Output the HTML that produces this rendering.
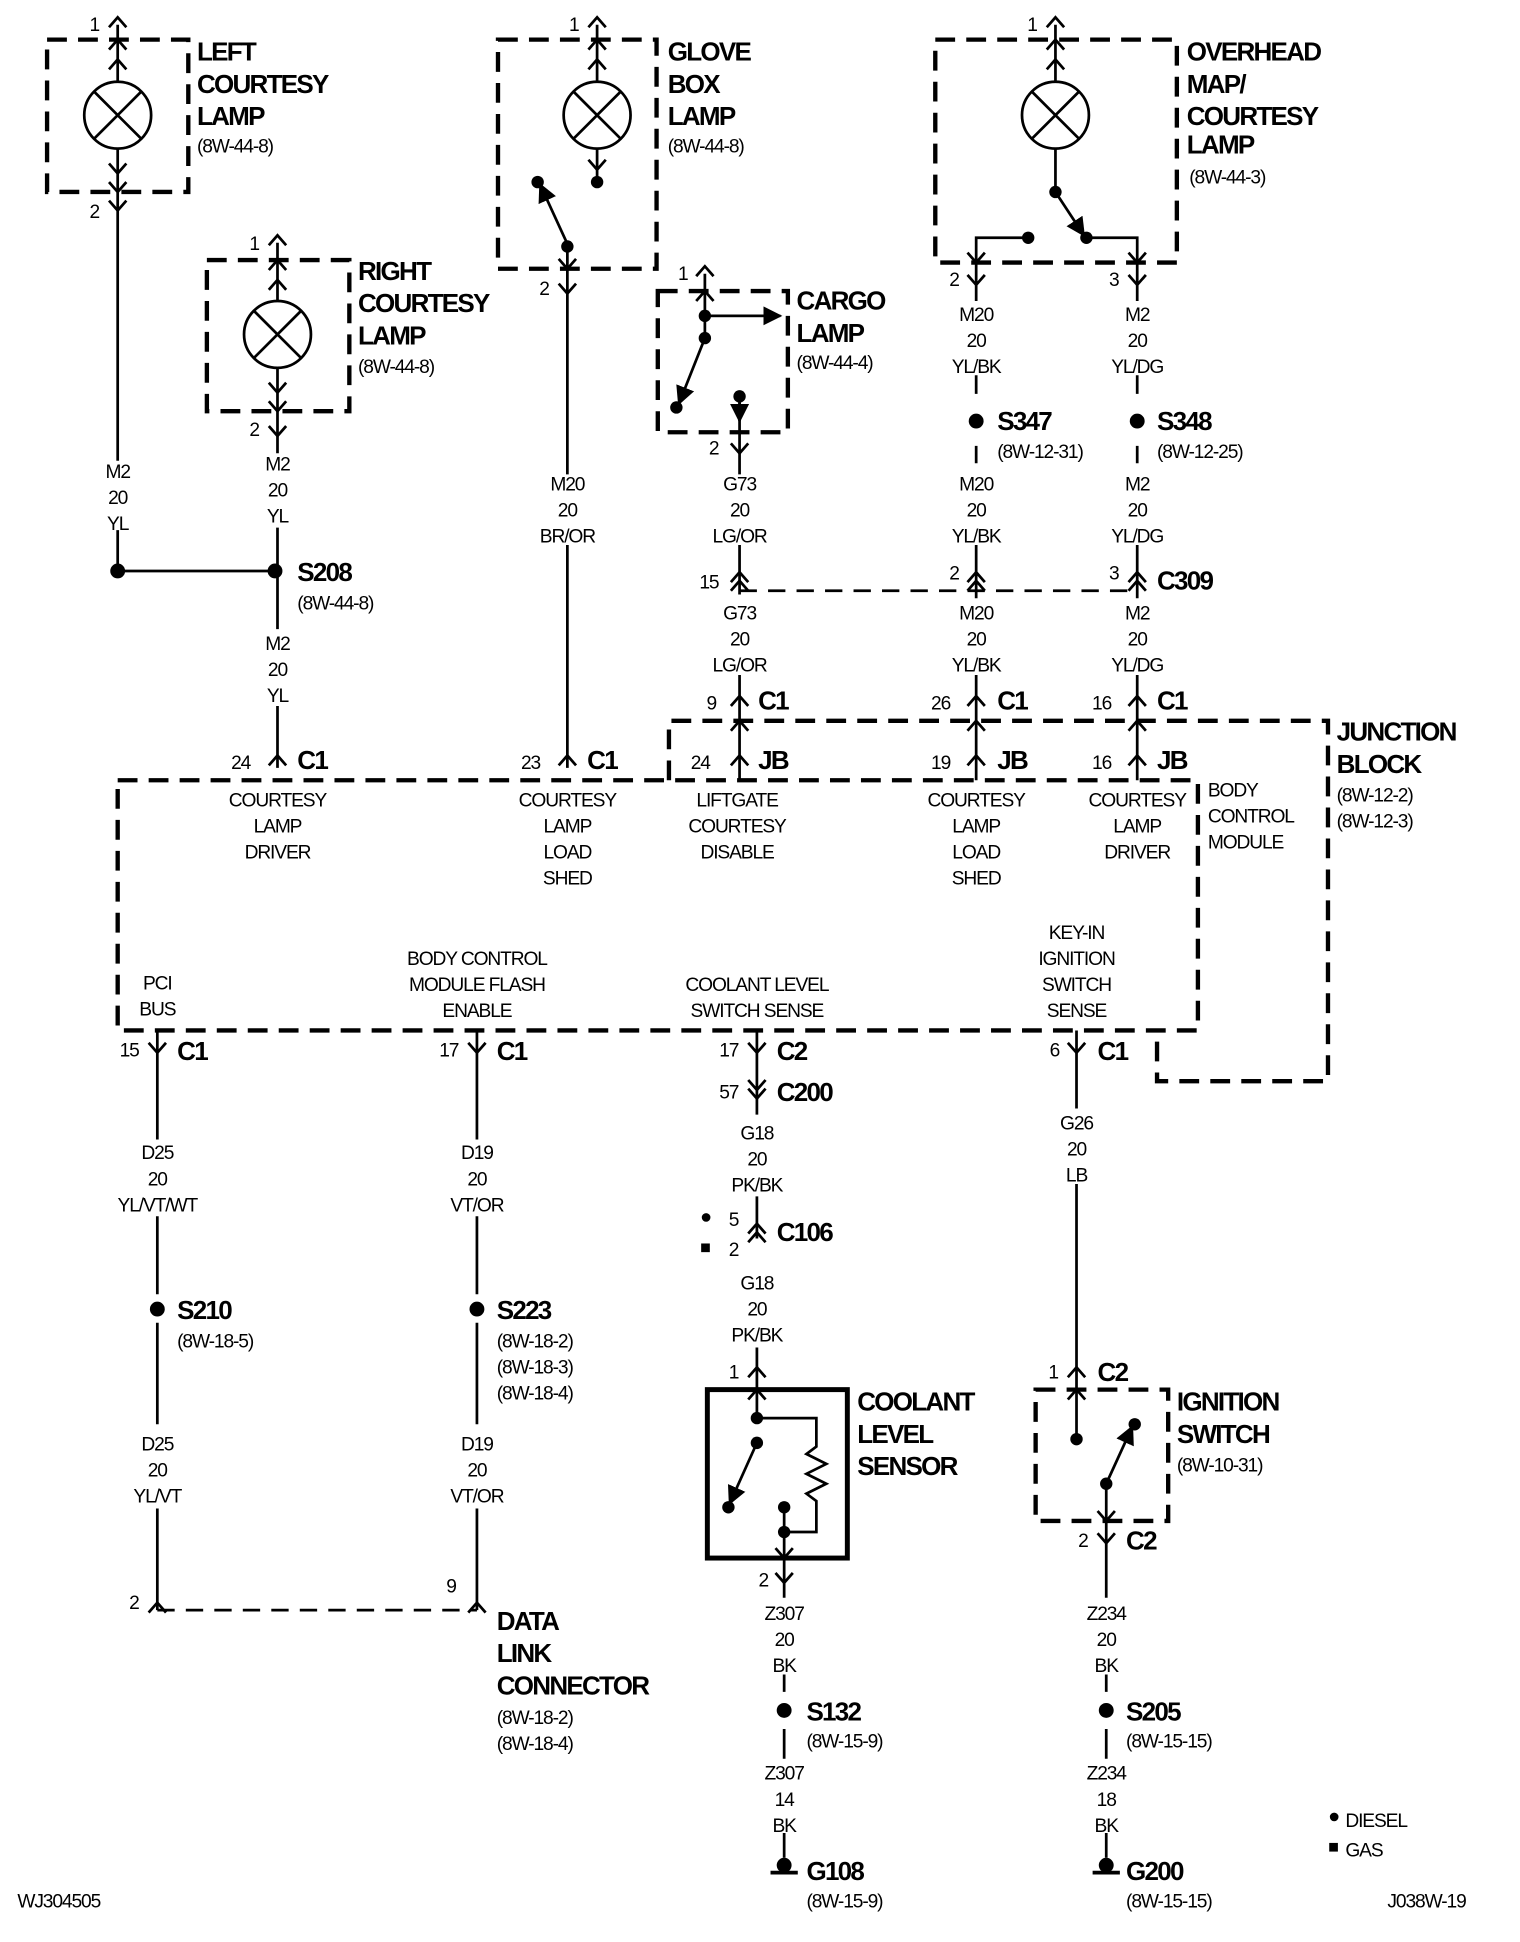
<!DOCTYPE html>
<html><head><meta charset="utf-8"><style>
html,body{margin:0;padding:0;background:#fff}
svg{display:block}
text{font-family:"Liberation Sans",sans-serif;fill:#000}
.b{font-weight:bold;font-size:21px;letter-spacing:-1.4px}
.s{font-size:15.5px;letter-spacing:-0.9px}
.m{font-size:15.5px;letter-spacing:-0.9px;text-anchor:middle}
.n{font-size:15.5px;letter-spacing:-0.9px;text-anchor:end}
</style></head><body>
<svg width="1520" height="1942" viewBox="0 0 1227 1568" preserveAspectRatio="none" xmlns="http://www.w3.org/2000/svg">
<defs>
<path id="cu" d="M-7,8 L0,0 L7,8" fill="none" stroke="#000" stroke-width="2.2"/>
<path id="cd" d="M-7,-8 L0,0 L7,-8" fill="none" stroke="#000" stroke-width="2.2"/>
<g id="du"><use href="#cu"/><use href="#cu" y="7"/></g>
<g id="dd"><use href="#cd"/><use href="#cd" y="-7"/></g>
<g id="lamp"><circle r="27" fill="#fff" stroke="#000" stroke-width="2.2"/><path d="M-19,-19 L19,19 M19,-19 L-19,19" stroke="#000" stroke-width="2.2"/></g>
<marker id="ah" viewBox="0 0 10 10" refX="9" refY="5" markerWidth="7" markerHeight="7" orient="auto"><path d="M0,0 L10,5 L0,10 z" fill="#000"/></marker>
</defs>
<g fill="none" stroke="#000">
<g stroke-width="3.5" stroke-dasharray="16,9">
<rect x="38" y="32" width="114" height="123"/>
<rect x="167" y="210" width="115" height="122"/>
<rect x="402" y="32" width="128" height="185"/>
<rect x="531" y="235" width="105" height="114"/>
<rect x="755" y="32" width="195" height="180"/>
<rect x="95" y="630" width="872" height="202"/>
<path d="M540,630 L540,582 L1072,582 L1072,873 L934,873 L934,832"/>
<rect x="836" y="1122" width="107" height="106"/>
</g>
<rect x="571" y="1122" width="113" height="136" stroke-width="4"/>
<g stroke-width="2.2" stroke-dasharray="14,9">
<path d="M597,477 L918,477"/>
<path d="M127,1300 L385,1300"/>
</g>
<g stroke-width="2.2">
<path d="M95,20 L95,66 M95,120 L95,170 M95,170 L95,372 M95,428 L95,461 L222,461"/>
<path d="M224,196 L224,243 M224,297 L224,352 M224,352 L224,366 M224,426 L224,508 M224,570 L224,620"/>
<path d="M482,20 L482,66 M482,120 L482,147 M458,197 L458,383 M458,440 L458,620"/>
<path d="M569,221 L569,273 M569,255 L625,255 M597,320 L597,383 M597,440 L597,480 M597,545 L597,630"/>
<path d="M852,20 L852,66 M852,120 L852,155 M877,192 L918,192 L918,228 M830,192 L788,192 L788,228 M788,228 L788,243 M918,228 L918,243"/>
<path d="M788,303 L788,318 M918,303 L918,318 M788,360 L788,374 M918,360 L918,374 M788,440 L788,483 M918,440 L918,483 M788,545 L788,630 M918,545 L918,630"/>
<path d="M127,832 L127,920 M127,982 L127,1045 M127,1068 L127,1150 M127,1218 L127,1300"/>
<path d="M385,832 L385,920 M385,982 L385,1045 M385,1068 L385,1150 M385,1218 L385,1300"/>
<path d="M611,832 L611,900 M611,966 L611,1000 M611,1088 L611,1145 L659,1145 L659,1168 L651,1174 L667,1182 L651,1190 L667,1198 L651,1206 L659,1212 L659,1237 L633,1237 M633,1217 L633,1290 M633,1352 L633,1366 M633,1396 L633,1420 M633,1480 L633,1500"/>
<path d="M869,832 L869,895 M869,956 L869,1162"/>
<path d="M893,1198 L893,1290 M893,1352 L893,1366 M893,1396 L893,1420 M893,1480 L893,1500"/>
<path d="M622,1512 L644,1512 M882,1512 L904,1512" stroke-width="3"/>
<path d="M458,197 L436,149" marker-end="url(#ah)"/>
<path d="M569,273 L548,326" marker-end="url(#ah)"/>
<path d="M852,155 L875,190" marker-end="url(#ah)"/>
<path d="M611,1165 L589,1214" marker-end="url(#ah)"/>
<path d="M893,1198 L914,1152" marker-end="url(#ah)"/>
<path d="M597,325 L597,340" marker-end="url(#ah)"/>
<path d="M569,255 L630,255" marker-end="url(#ah)"/>
</g>
</g>
<use href="#lamp" x="95" y="93"/><use href="#lamp" x="224" y="270"/>
<use href="#lamp" x="482" y="93"/><use href="#lamp" x="852" y="93"/>
<g>
<use href="#cu" x="95" y="14"/><use href="#cu" x="95" y="32"/><use href="#cu" x="95" y="48"/>
<use href="#cd" x="95" y="140"/><use href="#cd" x="95" y="155"/><use href="#cd" x="95" y="170"/>
<use href="#cu" x="224" y="190"/><use href="#cu" x="224" y="210"/><use href="#cu" x="224" y="226"/>
<use href="#cd" x="224" y="317"/><use href="#cd" x="224" y="332"/><use href="#cd" x="224" y="352"/>
<use href="#cu" x="482" y="14"/><use href="#cu" x="482" y="32"/><use href="#cu" x="482" y="48"/>
<use href="#cd" x="482" y="137"/><use href="#cd" x="458" y="217"/><use href="#cd" x="458" y="237"/>
<use href="#cu" x="569" y="215"/><use href="#cu" x="569" y="235"/>
<use href="#cd" x="597" y="366"/>
<use href="#cu" x="852" y="14"/><use href="#cu" x="852" y="32"/><use href="#cu" x="852" y="48"/>
<use href="#cd" x="788" y="212"/><use href="#cd" x="788" y="230"/><use href="#cd" x="918" y="212"/><use href="#cd" x="918" y="230"/>
<use href="#du" x="597" y="462"/><use href="#du" x="788" y="462"/><use href="#du" x="918" y="462"/>
<use href="#cu" x="597" y="562"/><use href="#cu" x="788" y="562"/><use href="#cu" x="918" y="562"/>
<use href="#cu" x="597" y="582"/><use href="#cu" x="788" y="582"/><use href="#cu" x="918" y="582"/>
<use href="#cu" x="597" y="610"/><use href="#cu" x="788" y="610"/><use href="#cu" x="918" y="610"/>
<use href="#cu" x="224" y="610"/><use href="#cu" x="458" y="610"/>
<use href="#cd" x="127" y="850"/><use href="#cd" x="385" y="850"/><use href="#cd" x="611" y="850"/><use href="#cd" x="869" y="850"/>
<use href="#dd" x="611" y="887"/><use href="#du" x="611" y="988"/>
<use href="#cu" x="611" y="1104"/><use href="#cu" x="611" y="1122"/>
<use href="#cd" x="633" y="1258"/><use href="#cd" x="633" y="1278"/>
<use href="#cu" x="869" y="1104"/><use href="#cu" x="869" y="1122"/>
<use href="#cd" x="893" y="1228"/><use href="#cd" x="893" y="1246"/>
<use href="#cu" x="127" y="1294"/><use href="#cu" x="385" y="1294"/>
</g>
<g fill="#000">
<circle cx="95" cy="461" r="6"/><circle cx="222" cy="461" r="6"/>
<circle cx="482" cy="147" r="5"/><circle cx="434" cy="147" r="5"/><circle cx="458" cy="199" r="5"/>
<circle cx="569" cy="255" r="5"/><circle cx="569" cy="273" r="5"/><circle cx="546" cy="329" r="5"/><circle cx="597" cy="320" r="5"/>
<circle cx="852" cy="155" r="5"/><circle cx="877" cy="192" r="5"/><circle cx="830" cy="192" r="5"/>
<circle cx="788" cy="340" r="6"/><circle cx="918" cy="340" r="6"/>
<circle cx="127" cy="1057" r="6"/><circle cx="385" cy="1057" r="6"/>
<circle cx="611" cy="1145" r="5"/><circle cx="611" cy="1165" r="5"/><circle cx="588" cy="1217" r="5"/><circle cx="633" cy="1217" r="5"/><circle cx="633" cy="1237" r="5"/>
<circle cx="869" cy="1162" r="5"/><circle cx="916" cy="1150" r="5"/><circle cx="893" cy="1198" r="5"/>
<circle cx="633" cy="1381" r="6"/><circle cx="893" cy="1381" r="6"/>
<circle cx="633" cy="1506" r="6"/><circle cx="893" cy="1506" r="6"/>
<circle cx="570" cy="983" r="3.5"/><rect x="566" y="1004" width="7" height="7"/>
<circle cx="1077" cy="1467" r="3.5"/><rect x="1073" y="1488" width="7" height="7"/>
</g>
<g class="b">
<text x="159" y="49">LEFT</text><text x="159" y="75">COURTESY</text><text x="159" y="101">LAMP</text>
<text x="289" y="226">RIGHT</text><text x="289" y="252">COURTESY</text><text x="289" y="278">LAMP</text>
<text x="539" y="49">GLOVE</text><text x="539" y="75">BOX</text><text x="539" y="101">LAMP</text>
<text x="643" y="250">CARGO</text><text x="643" y="276">LAMP</text>
<text x="958" y="49">OVERHEAD</text><text x="958" y="75">MAP/</text><text x="958" y="101">COURTESY</text><text x="958" y="124">LAMP</text>
<text x="240" y="469">S208</text><text x="805" y="347">S347</text><text x="934" y="347">S348</text>
<text x="934" y="476">C309</text>
<text x="612" y="573">C1</text><text x="805" y="573">C1</text><text x="934" y="573">C1</text>
<text x="612" y="621">JB</text><text x="805" y="621">JB</text><text x="934" y="621">JB</text>
<text x="240" y="621">C1</text><text x="474" y="621">C1</text>
<text x="1079" y="598">JUNCTION</text><text x="1079" y="624">BLOCK</text>
<text x="143" y="856">C1</text><text x="401" y="856">C1</text><text x="627" y="856">C2</text><text x="886" y="856">C1</text>
<text x="627" y="889">C200</text><text x="627" y="1002">C106</text>
<text x="143" y="1065">S210</text><text x="401" y="1065">S223</text>
<text x="886" y="1115">C2</text><text x="909" y="1251">C2</text>
<text x="692" y="1139">COOLANT</text><text x="692" y="1165">LEVEL</text><text x="692" y="1191">SENSOR</text>
<text x="950" y="1139">IGNITION</text><text x="950" y="1165">SWITCH</text>
<text x="401" y="1316">DATA</text><text x="401" y="1342">LINK</text><text x="401" y="1368">CONNECTOR</text>
<text x="651" y="1389">S132</text><text x="909" y="1389">S205</text>
<text x="651" y="1518">G108</text><text x="909" y="1518">G200</text>
</g>
<g class="s">
<text x="159" y="123">(8W-44-8)</text><text x="289" y="301">(8W-44-8)</text><text x="539" y="123">(8W-44-8)</text>
<text x="643" y="298">(8W-44-4)</text><text x="960" y="148">(8W-44-3)</text>
<text x="240" y="492">(8W-44-8)</text><text x="805" y="370">(8W-12-31)</text><text x="934" y="370">(8W-12-25)</text>
<text x="1079" y="647">(8W-12-2)</text><text x="1079" y="668">(8W-12-3)</text>
<text x="975" y="643">BODY</text><text x="975" y="664">CONTROL</text><text x="975" y="685">MODULE</text>
<text x="143" y="1088">(8W-18-5)</text>
<text x="401" y="1088">(8W-18-2)</text><text x="401" y="1109">(8W-18-3)</text><text x="401" y="1130">(8W-18-4)</text>
<text x="950" y="1188">(8W-10-31)</text>
<text x="401" y="1392">(8W-18-2)</text><text x="401" y="1413">(8W-18-4)</text>
<text x="651" y="1411">(8W-15-9)</text><text x="909" y="1411">(8W-15-15)</text>
<text x="651" y="1540">(8W-15-9)</text><text x="909" y="1540">(8W-15-15)</text>
<text x="1086" y="1475">DIESEL</text><text x="1086" y="1499">GAS</text>
<text x="14" y="1540">WJ304505</text><text x="1120" y="1540">J038W-19</text>
</g>
<g class="n">
<text x="80" y="25">1</text><text x="80" y="176">2</text>
<text x="209" y="202">1</text><text x="209" y="352">2</text>
<text x="467" y="25">1</text><text x="443" y="238">2</text>
<text x="555" y="226">1</text><text x="580" y="367">2</text>
<text x="837" y="25">1</text><text x="774" y="231">2</text><text x="903" y="231">3</text>
<text x="580" y="475">15</text><text x="774" y="468">2</text><text x="903" y="468">3</text>
<text x="578" y="573">9</text><text x="767" y="573">26</text><text x="897" y="573">16</text>
<text x="573" y="621">24</text><text x="767" y="621">19</text><text x="897" y="621">16</text>
<text x="202" y="621">24</text><text x="436" y="621">23</text>
<text x="112" y="853">15</text><text x="370" y="853">17</text><text x="596" y="853">17</text><text x="855" y="853">6</text>
<text x="596" y="887">57</text><text x="596" y="990">5</text><text x="596" y="1014">2</text>
<text x="596" y="1113">1</text><text x="854" y="1113">1</text>
<text x="620" y="1281">2</text><text x="878" y="1249">2</text>
<text x="112" y="1299">2</text><text x="368" y="1286">9</text>
</g>
<g class="m">
<text x="95" y="386">M2</text><text x="95" y="407">20</text><text x="95" y="428">YL</text>
<text x="224" y="380">M2</text><text x="224" y="401">20</text><text x="224" y="422">YL</text>
<text x="224" y="525">M2</text><text x="224" y="546">20</text><text x="224" y="567">YL</text>
<text x="458" y="396">M20</text><text x="458" y="417">20</text><text x="458" y="438">BR/OR</text>
<text x="597" y="396">G73</text><text x="597" y="417">20</text><text x="597" y="438">LG/OR</text>
<text x="597" y="500">G73</text><text x="597" y="521">20</text><text x="597" y="542">LG/OR</text>
<text x="788" y="259">M20</text><text x="788" y="280">20</text><text x="788" y="301">YL/BK</text>
<text x="918" y="259">M2</text><text x="918" y="280">20</text><text x="918" y="301">YL/DG</text>
<text x="788" y="396">M20</text><text x="788" y="417">20</text><text x="788" y="438">YL/BK</text>
<text x="918" y="396">M2</text><text x="918" y="417">20</text><text x="918" y="438">YL/DG</text>
<text x="788" y="500">M20</text><text x="788" y="521">20</text><text x="788" y="542">YL/BK</text>
<text x="918" y="500">M2</text><text x="918" y="521">20</text><text x="918" y="542">YL/DG</text>
<text x="224" y="651">COURTESY</text><text x="224" y="672">LAMP</text><text x="224" y="693">DRIVER</text>
<text x="458" y="651">COURTESY</text><text x="458" y="672">LAMP</text><text x="458" y="693">LOAD</text><text x="458" y="714">SHED</text>
<text x="595" y="651">LIFTGATE</text><text x="595" y="672">COURTESY</text><text x="595" y="693">DISABLE</text>
<text x="788" y="651">COURTESY</text><text x="788" y="672">LAMP</text><text x="788" y="693">LOAD</text><text x="788" y="714">SHED</text>
<text x="918" y="651">COURTESY</text><text x="918" y="672">LAMP</text><text x="918" y="693">DRIVER</text>
<text x="127" y="799">PCI</text><text x="127" y="820">BUS</text>
<text x="385" y="779">BODY CONTROL</text><text x="385" y="800">MODULE FLASH</text><text x="385" y="821">ENABLE</text>
<text x="611" y="800">COOLANT LEVEL</text><text x="611" y="821">SWITCH SENSE</text>
<text x="869" y="758">KEY-IN</text><text x="869" y="779">IGNITION</text><text x="869" y="800">SWITCH</text><text x="869" y="821">SENSE</text>
<text x="127" y="936">D25</text><text x="127" y="957">20</text><text x="127" y="978">YL/VT/WT</text>
<text x="385" y="936">D19</text><text x="385" y="957">20</text><text x="385" y="978">VT/OR</text>
<text x="127" y="1171">D25</text><text x="127" y="1192">20</text><text x="127" y="1213">YL/VT</text>
<text x="385" y="1171">D19</text><text x="385" y="1192">20</text><text x="385" y="1213">VT/OR</text>
<text x="611" y="920">G18</text><text x="611" y="941">20</text><text x="611" y="962">PK/BK</text>
<text x="611" y="1041">G18</text><text x="611" y="1062">20</text><text x="611" y="1083">PK/BK</text>
<text x="869" y="912">G26</text><text x="869" y="933">20</text><text x="869" y="954">LB</text>
<text x="633" y="1308">Z307</text><text x="633" y="1329">20</text><text x="633" y="1350">BK</text>
<text x="633" y="1437">Z307</text><text x="633" y="1458">14</text><text x="633" y="1479">BK</text>
<text x="893" y="1308">Z234</text><text x="893" y="1329">20</text><text x="893" y="1350">BK</text>
<text x="893" y="1437">Z234</text><text x="893" y="1458">18</text><text x="893" y="1479">BK</text>
</g>
</svg>
</body></html>
